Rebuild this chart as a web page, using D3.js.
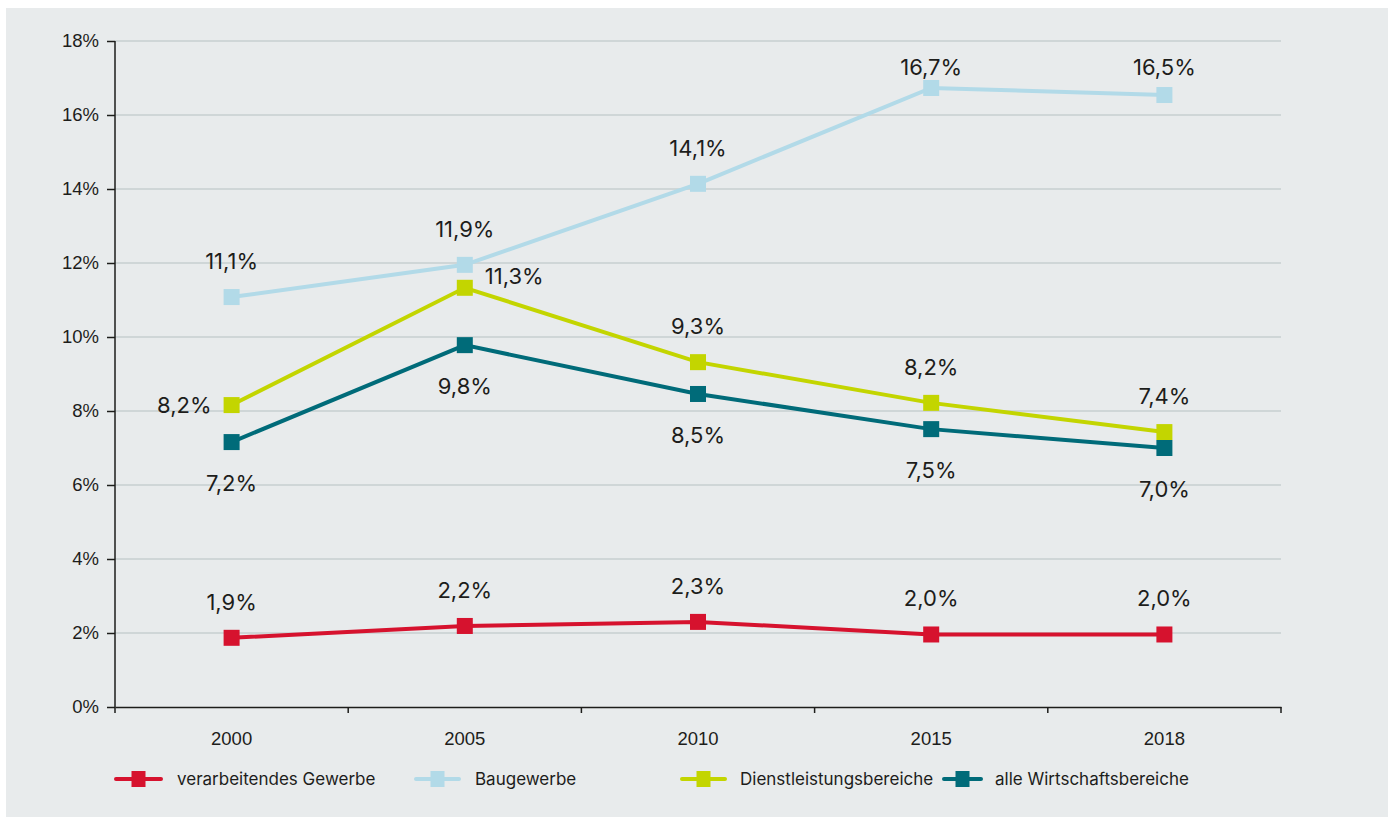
<!DOCTYPE html>
<html>
<head>
<meta charset="utf-8">
<script src="https://cdn.jsdelivr.net/npm/d3@7"></script>
<style>
  body { margin: 0; background: #fff; }
  svg { display: block; font-family: Inter, Roboto, "Noto Sans", sans-serif; }
</style>
</head>
<body>
<svg id="chart" width="1388" height="818"></svg>
<script>
(function(){
    'use strict';

    // Data
    const years = ['2000', '2005', '2010', '2015', '2018'];
    const seriesNames = ['verarbeitendes Gewerbe', 'Baugewerbe', 'Dienstleistungsbereiche', 'alle Wirtschaftsbereiche'];
    const verarbeitend = [1.87, 2.19, 2.30, 1.96, 1.96];
    const bau = [11.08, 11.95, 14.14, 16.73, 16.54];
    const dienst = [8.16, 11.33, 9.32, 8.22, 7.43];
    const alle = [7.16, 9.78, 8.46, 7.51, 7.0];
    const yTicks = [0, 2, 4, 6, 8, 10, 12, 14, 16, 18];

    const colors = ['#d6122e', '#b2dae8', '#c3d500', '#006b79'];
    const allSeries = [verarbeitend, bau, dienst, alle];

    const width = 1388;
    const height = 818;
    const margin = {top: 41, bottom: 111, left: 115, right: 107};
    const textColor = '#1d1d1b';

    const svg = d3.select('#chart');

    // panel background
    svg.append('rect')
        .attr('x', 6).attr('y', 8)
        .attr('width', width - 6).attr('height', 809)
        .attr('fill', '#e8ebec');

    const x = d3.scaleBand()
        .domain(years)
        .range([margin.left, width - margin.right])
        .padding(0);

    const y = d3.scaleLinear()
        .domain([0, 18])
        .range([height - margin.bottom, margin.top]);

    // gridlines
    svg.append('g')
        .selectAll('line')
        .data(yTicks.filter(d => d > 0))
        .enter()
        .append('line')
            .attr('x1', margin.left)
            .attr('x2', width - margin.right)
            .attr('y1', d => y(d))
            .attr('y2', d => y(d))
            .attr('stroke', '#c7cfd0')
            .attr('stroke-width', 1.5);

    function yAxis(g){
        g.attr('transform', `translate(${margin.left}, 0)`)
        .call(d3.axisLeft(y).tickValues(yTicks).tickSize(8).tickPadding(8).tickSizeOuter(0)
            .tickFormat(d => d + '%'));
        g.select('.domain').remove();
        g.append('line')
            .attr('x1', 0).attr('x2', 0)
            .attr('y1', margin.top).attr('y2', y(0) + 6)
            .attr('stroke', textColor).attr('stroke-width', 1.5);
        g.selectAll('.tick line').attr('stroke', textColor).attr('stroke-width', 1.5);
        g.selectAll('text').style('font-size', '18.5px').attr('fill', textColor).attr('font-family', null);
    }

    function xAxis(g){
        g.attr('transform', `translate(0, ${y(0)})`)
        .call(d3.axisBottom(x).tickSize(0).tickPadding(25));
        g.select('.domain').attr('stroke', textColor).attr('stroke-width', 1.5);
        g.selectAll('text').style('font-size', '18.5px').attr('fill', textColor).attr('font-family', null);
        // ticks sit on the band edges
        g.selectAll('.edge')
            .data(years.slice(1).concat(['end']))
            .enter()
            .append('line')
                .attr('x1', (d, i) => i < years.length - 1 ? x(d) : x.range()[1])
                .attr('x2', (d, i) => i < years.length - 1 ? x(d) : x.range()[1])
                .attr('y1', 0).attr('y2', 6)
                .attr('stroke', textColor).attr('stroke-width', 1.5);
    }

    svg.append('g').call(yAxis);
    svg.append('g').call(xAxis);

    const cx = d => x(d) + x.bandwidth() / 2;
    const line = d3.line()
        .x((d, i) => cx(years[i]))
        .y(d => y(d));

    const fmt = v => d3.format('.1f')(v).replace('.', ',') + '%';

    // label placement per series: above / below, with exceptions
    function labelPos(s, i, v){
        const px = cx(years[i]);
        const py = y(v);
        if (s === 2 && i === 0) return {x: px - 20, y: py, anchor: 'end'};
        if (s === 2 && i === 1) return {x: px + 20, y: py - 11, anchor: 'start'};
        if (s === 3) return {x: px, y: py + 41, anchor: 'middle'};
        return {x: px, y: Math.max(py - 36, 67), anchor: 'middle'};
    }

    allSeries.forEach((vals, s) => {
        const g = svg.append('g');
        g.append('path')
            .datum(vals)
            .attr('fill', 'none')
            .attr('stroke', colors[s])
            .attr('stroke-width', 4)
            .attr('d', line);
        g.selectAll('rect')
            .data(vals)
            .enter()
            .append('rect')
                .attr('x', (d, i) => cx(years[i]) - 8)
                .attr('y', d => y(d) - 8)
                .attr('width', 16)
                .attr('height', 16)
                .attr('fill', colors[s]);
    });

    allSeries.forEach((vals, s) => {
        svg.append('g')
            .selectAll('text')
            .data(vals)
            .enter()
            .append('text')
                .each(function(d, i){
                    const p = labelPos(s, i, d);
                    d3.select(this)
                        .attr('x', p.x).attr('y', p.y)
                        .attr('text-anchor', p.anchor);
                })
                .attr('dy', '0.35em')
                .style('font-size', '22px')
                .attr('fill', textColor)
                .text(d => fmt(d));
    });

    // legend
    const legendLine = [[114, 163], [414, 461], [680, 727], [942, 983]];
    const legendText = [177, 475, 740, 995];
    const legend = svg.append('g').attr('transform', 'translate(0, 779)');
    const item = legend.selectAll('g')
        .data(seriesNames)
        .enter()
        .append('g');
    item.append('line')
        .attr('x1', (d, i) => legendLine[i][0] + 2)
        .attr('x2', (d, i) => legendLine[i][1] - 2)
        .attr('stroke', (d, i) => colors[i])
        .attr('stroke-width', 4)
        .attr('stroke-linecap', 'round');
    item.append('rect')
        .attr('x', (d, i) => (legendLine[i][0] + legendLine[i][1]) / 2 - 7)
        .attr('y', -8)
        .attr('width', 14).attr('height', 16)
        .attr('fill', (d, i) => colors[i]);
    item.append('text')
        .attr('x', (d, i) => legendText[i])
        .attr('dy', '0.35em')
        .style('font-size', '17px')
        .attr('fill', textColor)
        .text(d => d);
})();
</script>
</body>
</html>
